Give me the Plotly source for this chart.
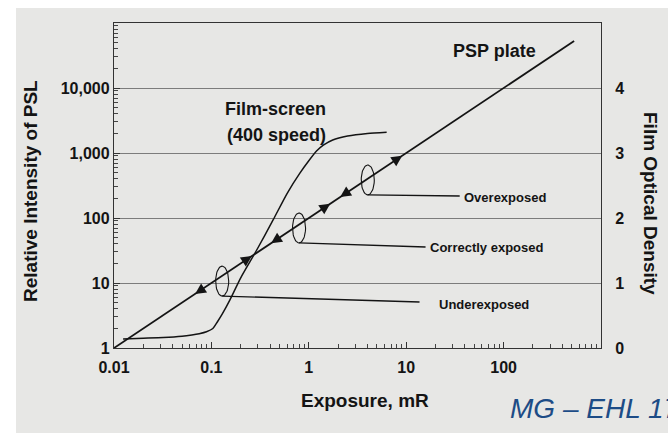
import numpy as np
import plotly.graph_objects as go

# ---------------- data ----------------
x_tick_vals = [0.01, 0.1, 1, 10, 100]
x_tick_text = ["0.01", "0.1", "1", "10", "100"]
y_tick_vals = [1, 10, 100, 1000, 10000]
y_tick_text = ["1", "10", "100", "1,000", "10,000"]
od_tick_vals = [0, 1, 2, 3, 4]

# PSP plate (linear response over the whole exposure range)
psp_exposure = [0.01, 530]
psp_psl = [1, 53000]

# Film-screen (400 speed) characteristic curve, optical density vs exposure
film_exposure = [0.0124, 0.02, 0.032, 0.05, 0.063, 0.075, 0.089, 0.1035, 0.115, 0.129,
                 0.155, 0.2, 0.29, 0.43, 0.6, 0.81, 1.0, 1.2, 1.41, 1.76, 2.5, 4.0, 6.3]
film_density = [0.14, 0.15, 0.16, 0.18, 0.2, 0.22, 0.25, 0.3, 0.4, 0.52,
                0.74, 1.08, 1.5, 1.97, 2.38, 2.69, 2.88, 3.03, 3.12, 3.2, 3.26, 3.3, 3.32]

# arrowheads along the PSP line (+1 = points up-right, -1 = points down-left)
arrow_exposure = [0.068, 0.26, 0.41, 1.66, 2.1, 9.1]
arrow_direction = [-1, 1, -1, 1, -1, 1]

# exposure regions marked by ellipses, and their labels
region_labels = ["Underexposed", "Correctly exposed", "Overexposed"]
ellipse_exposure = [0.129, 0.794, 4.03]
ellipse_psl = [10.7, 70.2, 385]
leader_end_exposure = [13.7, 15.8, 35.4]
leader_end_psl = [5.1, 35.8, 218]
label_exposure = [20.6, 16.6, 37.0]
label_psl = [4.75, 34.6, 204]

# ---------------- style ----------------
FONT = "Liberation Sans, Arial, Helvetica, sans-serif"
INK = "#141414"
GRID = "#7c7c7c"
W, H = 668, 437
L, R, T, B = 114, 67, 23, 89
PW, PH = W - L - R, H - T - B


def px_to_paper(px, py):
    return (px - L) / PW, (H - B - py) / PH


fig = go.Figure()

# PSP plate line
fig.add_trace(go.Scatter(x=psp_exposure, y=psp_psl, mode="lines",
                         line=dict(color=INK, width=1.8), hoverinfo="skip"))

# film-screen curve on optical density axis
fig.add_trace(go.Scatter(x=film_exposure, y=film_density, mode="lines", yaxis="y2",
                         line=dict(color=INK, width=1.5, shape="spline", smoothing=0.6),
                         hoverinfo="skip"))

# ellipses and leader lines
a_dec, b_dec = 0.067, 0.23
t = np.linspace(0, 2 * np.pi, 60)
for ex, ep, lx, ly in zip(ellipse_exposure, ellipse_psl, leader_end_exposure, leader_end_psl):
    cx, cy = np.log10(ex), np.log10(ep)
    fig.add_trace(go.Scatter(x=10 ** (cx + a_dec * np.cos(t)), y=10 ** (cy + b_dec * np.sin(t)),
                             mode="lines", line=dict(color=INK, width=1.1), hoverinfo="skip"))
    fig.add_trace(go.Scatter(x=[ex, lx], y=[10 ** (cy - b_dec), ly], mode="lines",
                             line=dict(color=INK, width=1.3), hoverinfo="skip"))

annotations = []
# arrowheads on the PSP line
lp_x = np.log10(psp_exposure)
lp_y = np.log10(psp_psl)
for ex, d in zip(arrow_exposure, arrow_direction):
    hx = np.log10(ex)
    hy = float(np.interp(hx, lp_x, lp_y))
    annotations.append(dict(x=hx, y=hy, xref="x", yref="y", axref="x", ayref="y",
                            ax=hx - d * 0.1, ay=hy - d * 0.1, text="", showarrow=True,
                            arrowhead=2, arrowsize=1.2, arrowwidth=1.8, arrowcolor=INK))

# region labels
for txt, ex, ep in zip(region_labels, label_exposure, label_psl):
    annotations.append(dict(x=np.log10(ex), y=np.log10(ep), xref="x", yref="y",
                            text=txt, showarrow=False, xanchor="left", yanchor="middle",
                            font=dict(family=FONT, size=13, color=INK, weight="bold")))

# curve labels
for txt, px, py, size in [("PSP plate", 494, 51, 18), ("Film-screen", 275, 109, 18),
                          ("(400 speed)", 276, 135, 18)]:
    xx, yy = px_to_paper(px, py)
    annotations.append(dict(x=xx, y=yy, xref="paper", yref="paper", text=txt,
                            showarrow=False, xanchor="center", yanchor="middle",
                            font=dict(family=FONT, size=size, color=INK, weight="bold")))

# axis titles
xx, yy = px_to_paper(365, 400)
annotations.append(dict(x=xx, y=yy, xref="paper", yref="paper", text="Exposure, mR",
                        showarrow=False, xanchor="center", yanchor="middle",
                        font=dict(family=FONT, size=19, color=INK, weight="bold")))
xx, yy = px_to_paper(30, 191)
annotations.append(dict(x=xx, y=yy, xref="paper", yref="paper", text="Relative Intensity of PSL",
                        showarrow=False, xanchor="center", yanchor="middle", textangle=-90,
                        font=dict(family=FONT, size=19, color=INK, weight="bold")))
xx, yy = px_to_paper(651, 203)
annotations.append(dict(x=xx, y=yy, xref="paper", yref="paper", text="Film Optical Density",
                        showarrow=False, xanchor="center", yanchor="middle", textangle=90,
                        font=dict(family=FONT, size=19, color=INK, weight="bold")))
# slide footer (runs off the right edge in the original)
xx, yy = px_to_paper(508, 409)
annotations.append(dict(x=xx, y=yy, xref="paper", yref="paper", text="MG – EHL 17",
                        showarrow=False, xanchor="left", yanchor="middle",
                        font=dict(family=FONT, size=28, color="#1d4c86", style="italic")))

# scanned page background
x0, y0 = px_to_paper(16, 433)
x1, y1 = px_to_paper(W + 2, 8)
shapes = [dict(type="rect", xref="paper", yref="paper", x0=x0, x1=x1, y0=y0, y1=y1,
               fillcolor="#e7e7e5", line=dict(width=0), layer="below")]

minor_vals_x = [m * 10.0 ** k for k in range(-2, 3) for m in range(2, 10)]
minor_vals_y = [m * 10.0 ** k for k in range(0, 5) for m in range(2, 10)]

fig.update_layout(
    width=W, height=H, autosize=False,
    margin=dict(l=L, r=R, t=T, b=B),
    paper_bgcolor="white", plot_bgcolor="rgba(0,0,0,0)",
    showlegend=False,
    annotations=annotations, shapes=shapes,
    xaxis=dict(type="log", range=[-2, 3], tickvals=x_tick_vals, ticktext=x_tick_text,
               ticks="inside", ticklen=6, tickwidth=1, tickcolor="#333",
               showgrid=False, zeroline=False, ticklabelstandoff=5,
               showline=True, linecolor="#333", linewidth=1.3, mirror=True,
               tickfont=dict(family=FONT, size=16, color=INK, weight="bold"),
               minor=dict(tickvals=minor_vals_x, ticks="inside", ticklen=4, tickcolor="#444",
                          showgrid=False)),
    yaxis=dict(type="log", range=[0, 5], tickvals=y_tick_vals, ticktext=y_tick_text,
               ticks="inside", ticklen=6, tickwidth=1, tickcolor="#333",
               showgrid=True, gridcolor=GRID, gridwidth=1.2, zeroline=False,
               showline=True, linecolor="#333", linewidth=1.3,
               tickfont=dict(family=FONT, size=16, color=INK, weight="bold"),
               minor=dict(tickvals=minor_vals_y, ticks="inside", ticklen=4, tickcolor="#444",
                          showgrid=False)),
    yaxis2=dict(overlaying="y", side="right", range=[0, 5], tickvals=od_tick_vals,
                ticks="", showgrid=False, zeroline=False,
                showline=True, linecolor="#333", linewidth=1.3, ticklabelstandoff=10,
                tickfont=dict(family=FONT, size=16, color=INK, weight="bold")),
)

fig.write_html("out.html")
